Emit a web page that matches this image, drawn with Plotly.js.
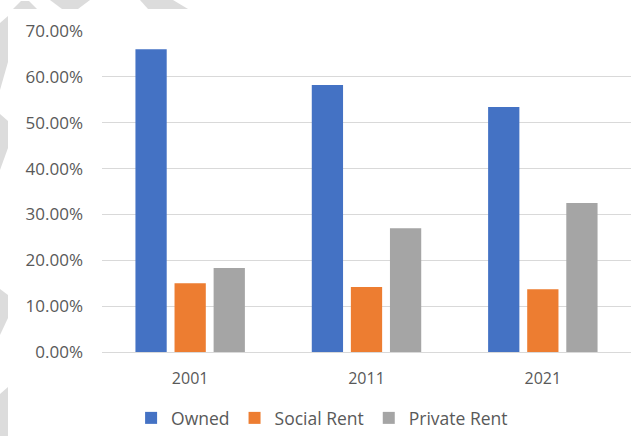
<!DOCTYPE html>
<html>
<head>
<meta charset="utf-8">
<script src="https://cdn.plot.ly/plotly-3.0.1.min.js"></script>
<style>
html,body{margin:0;padding:0;background:#fff;}
#chart{width:634px;height:436px;}
</style>
</head>
<body>
<div id="chart"></div>
<script>
// ---- data ----
const categories = ["2001", "2011", "2021"];
const seriesNames = ["Owned", "Social Rent", "Private Rent"];
const owned = [0.660, 0.582, 0.534];
const socialRent = [0.150, 0.142, 0.137];
const privateRent = [0.183, 0.270, 0.325];
const yTickValues = [0, 0.1, 0.2, 0.3, 0.4, 0.5, 0.6, 0.7];

// ---- styling ----
const colors = ["#4472C4", "#ED7D31", "#A5A5A5"];
const textColor = "#595959";
const fontFamily = "'Open Sans', 'Noto Sans', sans-serif";

const M = {l: 102, r: 3, t: 31, b: 84};
const W = 634, H = 436;
const pw = W - M.l - M.r, ph = H - M.t - M.b;
// convert pixel position to paper coordinates (for decorative background shapes)
function px(x) { return (x - M.l) / pw; }
function py(y) { return (H - M.b - y) / ph; }
function poly(pts) {
  return "M" + pts.map(p => px(p[0]).toFixed(4) + "," + py(p[1]).toFixed(4)).join("L") + "Z";
}
const deco = [
  [[13,9],[21,1],[29,1],[37,9]],
  [[50,0],[90,0],[78,9],[62,9]],
  [[140,0],[173,0],[188,9],[148,9]],
  [[0,23],[8,16],[8,62],[0,90]],
  [[0,114],[8,121],[8,148],[0,170]],
  [[0,289],[8,295],[8,318],[0,335]],
  [[0,394],[8,387],[8,436],[0,436]]
];
const shapes = deco.map(d => ({
  type: "path", xref: "paper", yref: "paper", path: poly(d),
  fillcolor: "#DCDCDC", line: {width: 0}, layer: "below"
}));

const values = [owned, socialRent, privateRent];
const traces = seriesNames.map((name, i) => ({
  type: "bar",
  name: name,
  x: categories,
  y: values[i],
  marker: {color: colors[i], line: {width: 0}},
  hoverinfo: "x+y+name"
}));

const layout = {
  width: W, height: H,
  margin: M,
  paper_bgcolor: "#FFFFFF",
  plot_bgcolor: "rgba(0,0,0,0)",
  font: {family: fontFamily, color: textColor, size: 15},
  barmode: "group",
  bargap: 0.335,
  bargroupgap: 0.2,
  showlegend: true,
  legend: {
    orientation: "h",
    x: 0.055, xanchor: "left",
    xref: "paper",
    yref: "container",
    y: 0.0, yanchor: "bottom",
    font: {family: fontFamily, size: 17.5, color: textColor},
    itemwidth: 30,
    bgcolor: "rgba(0,0,0,0)"
  },
  xaxis: {
    type: "category",
    showgrid: false,
    zeroline: false,
    showline: false,
    ticks: "",
    tickfont: {family: fontFamily, size: 16, color: textColor},
    ticklabelstandoff: 15,
    automargin: false
  },
  yaxis: {
    range: [0, 0.7],
    tickvals: yTickValues,
    tickformat: ".2%",
    showgrid: true,
    gridcolor: "#D9D9D9",
    gridwidth: 1,
    zeroline: true,
    zerolinecolor: "#D9D9D9",
    zerolinewidth: 1,
    showline: false,
    ticks: "",
    tickfont: {family: fontFamily, size: 17, color: textColor},
    ticklabelstandoff: 18,
    automargin: false,
    fixedrange: true
  },
  shapes: shapes
};

Plotly.newPlot("chart", traces, layout, {displayModeBar: false, staticPlot: true});
</script>
</body>
</html>
